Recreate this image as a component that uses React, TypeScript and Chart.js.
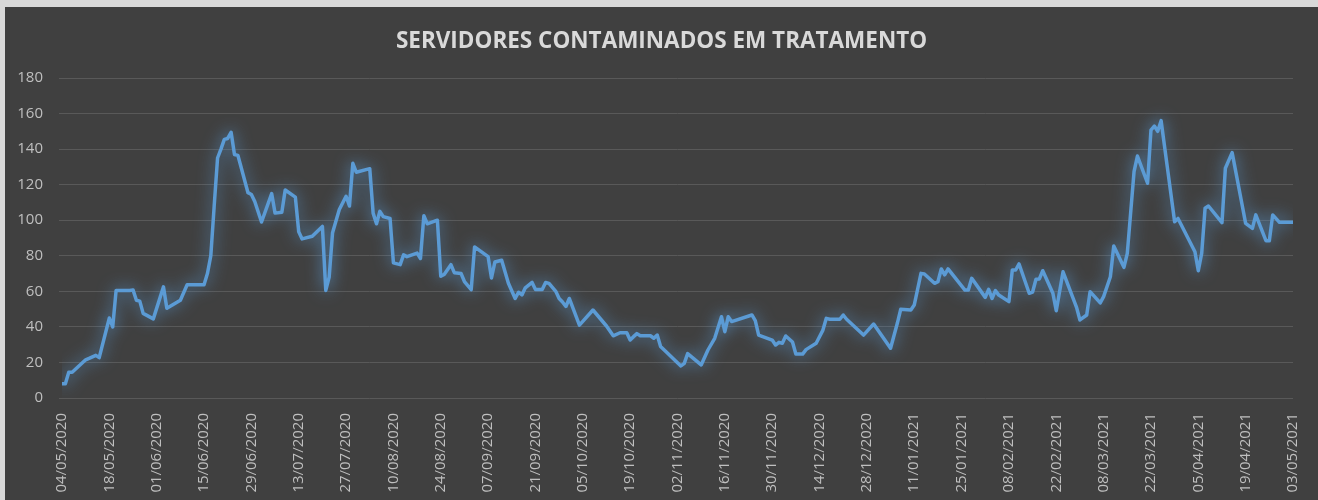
import React, { useEffect, useRef } from "react";
import { Chart, registerables } from "chart.js";

Chart.register(...registerables);

const chartTitle = "SERVIDORES CONTAMINADOS EM TRATAMENTO";
const startDate = "2020-05-04";

const dates = [
  "2020-05-04", "2020-05-05", "2020-05-06", "2020-05-07", "2020-05-11", "2020-05-12", "2020-05-14", "2020-05-15",
  "2020-05-18", "2020-05-19", "2020-05-20", "2020-05-24", "2020-05-25", "2020-05-26", "2020-05-27", "2020-05-28",
  "2020-05-31", "2020-06-03", "2020-06-04", "2020-06-08", "2020-06-10", "2020-06-15", "2020-06-16", "2020-06-17",
  "2020-06-18", "2020-06-19", "2020-06-20", "2020-06-21", "2020-06-22", "2020-06-23", "2020-06-24", "2020-06-25",
  "2020-06-28", "2020-06-29", "2020-06-30", "2020-07-02", "2020-07-05", "2020-07-06", "2020-07-08", "2020-07-09",
  "2020-07-12", "2020-07-13", "2020-07-14", "2020-07-17", "2020-07-20", "2020-07-21", "2020-07-22", "2020-07-23",
  "2020-07-25", "2020-07-27", "2020-07-28", "2020-07-29", "2020-07-30", "2020-08-03", "2020-08-04", "2020-08-05",
  "2020-08-06", "2020-08-07", "2020-08-09", "2020-08-10", "2020-08-12", "2020-08-13", "2020-08-14", "2020-08-17",
  "2020-08-18", "2020-08-19", "2020-08-20", "2020-08-23", "2020-08-24", "2020-08-25", "2020-08-27", "2020-08-28",
  "2020-08-30", "2020-08-31", "2020-09-02", "2020-09-03", "2020-09-07", "2020-09-08", "2020-09-09", "2020-09-11",
  "2020-09-13", "2020-09-15", "2020-09-16", "2020-09-17", "2020-09-18", "2020-09-20", "2020-09-21", "2020-09-23",
  "2020-09-24", "2020-09-25", "2020-09-27", "2020-09-28", "2020-09-29", "2020-09-30", "2020-10-01", "2020-10-04",
  "2020-10-08", "2020-10-12", "2020-10-14", "2020-10-16", "2020-10-18", "2020-10-19", "2020-10-20", "2020-10-21",
  "2020-10-22", "2020-10-25", "2020-10-26", "2020-10-27", "2020-10-28", "2020-11-03", "2020-11-04", "2020-11-05",
  "2020-11-09", "2020-11-11", "2020-11-13", "2020-11-15", "2020-11-16", "2020-11-17", "2020-11-18", "2020-11-24",
  "2020-11-25", "2020-11-26", "2020-11-30", "2020-12-01", "2020-12-02", "2020-12-03", "2020-12-04", "2020-12-06",
  "2020-12-07", "2020-12-09", "2020-12-10", "2020-12-13", "2020-12-15", "2020-12-16", "2020-12-17", "2020-12-20",
  "2020-12-21", "2020-12-22", "2020-12-27", "2020-12-30", "2021-01-04", "2021-01-06", "2021-01-07", "2021-01-10",
  "2021-01-11", "2021-01-13", "2021-01-14", "2021-01-17", "2021-01-18", "2021-01-19", "2021-01-20", "2021-01-21",
  "2021-01-26", "2021-01-27", "2021-01-28", "2021-02-01", "2021-02-02", "2021-02-03", "2021-02-04", "2021-02-05",
  "2021-02-08", "2021-02-09", "2021-02-10", "2021-02-11", "2021-02-14", "2021-02-15", "2021-02-16", "2021-02-17",
  "2021-02-18", "2021-02-21", "2021-02-22", "2021-02-24", "2021-02-28", "2021-03-01", "2021-03-03", "2021-03-04",
  "2021-03-07", "2021-03-08", "2021-03-10", "2021-03-11", "2021-03-14", "2021-03-15", "2021-03-17", "2021-03-18",
  "2021-03-21", "2021-03-22", "2021-03-23", "2021-03-24", "2021-03-25", "2021-03-29", "2021-03-30", "2021-04-04",
  "2021-04-05", "2021-04-06", "2021-04-07", "2021-04-08", "2021-04-12", "2021-04-13", "2021-04-15", "2021-04-19",
  "2021-04-21", "2021-04-22", "2021-04-25", "2021-04-26", "2021-04-27", "2021-04-29", "2021-05-03",
];

const values = [
  8, 8, 14.5, 14.5, 21.5, 22.3, 24, 22.7,
  45, 40, 60.5, 60.5, 60.8, 55, 54.5, 47.6,
  44.5, 62.5, 50.5, 55, 63.7, 63.7, 70, 80,
  108, 135, 140, 145.5, 146, 149.5, 137, 136.5,
  115.5, 114.5, 110.5, 99, 115, 104, 104.5, 117,
  113, 93.5, 89.5, 91, 96.5, 60.5, 68, 93,
  106, 113.5, 108, 132, 127, 129, 104, 98,
  105, 102, 101, 76, 75, 80.5, 79.5, 81.5,
  78.5, 102.5, 98, 100, 68.5, 69.5, 75, 70.5,
  70, 65.5, 61, 85, 79.5, 67.5, 76.5, 77.5,
  64.5, 56, 59.5, 58, 62, 65, 61, 61,
  65, 64.5, 60, 56, 54, 51.5, 56, 41,
  49.5, 40.5, 35, 36.7, 36.7, 32.6, 34.5, 36.2,
  35, 35, 33.6, 35.4, 29, 18, 19.5, 25,
  18.6, 27, 33.6, 45.7, 37.3, 45.7, 43, 46.7,
  43.5, 35.4, 32.6, 29.8, 31.3, 30.8, 34.9, 31.5,
  24.7, 24.7, 27.2, 30.8, 38.2, 44.8, 44.3, 44.3,
  46.7, 44.3, 35.4, 41.6, 28, 42, 49.9, 49.5,
  52.3, 70.1, 69.8, 64.5, 65.4, 72.6, 69.3, 72.6,
  60.7, 60.7, 67.3, 56.6, 61.1, 56, 60.4, 57.9,
  54.2, 72, 72, 75.4, 58.9, 59.6, 66.8, 67,
  71.6, 58.9, 49.1, 71, 51, 43.9, 46.7, 59.8,
  53.5, 57, 68.2, 85.5, 73.5, 81.4, 127.3, 136.1,
  120.8, 150.7, 153, 150, 156, 99.2, 101, 82.3,
  71.6, 81.4, 106.7, 108, 98.6, 129.2, 138, 98.2,
  95.4, 103, 88.5, 88.5, 103, 98.8, 98.8,
];

const tickLabels = [
  "04/05/2020", "18/05/2020", "01/06/2020", "15/06/2020", "29/06/2020", "13/07/2020", "27/07/2020",
  "10/08/2020", "24/08/2020", "07/09/2020", "21/09/2020", "05/10/2020", "19/10/2020", "02/11/2020",
  "16/11/2020", "30/11/2020", "14/12/2020", "28/12/2020", "11/01/2021", "25/01/2021", "08/02/2021",
  "22/02/2021", "08/03/2021", "22/03/2021", "05/04/2021", "19/04/2021", "03/05/2021",
];

const tickStepDays = 14;
const yMin = 0;
const yMax = 180;
const yStep = 20;

function toUTC(iso: string): number {
  const [y, m, d] = iso.split("-").map(Number);
  return Date.UTC(y, m - 1, d);
}

function dayOffset(iso: string): number {
  return Math.round((toUTC(iso) - toUTC(startDate)) / 86400000);
}

const FONT = '"Open Sans", "Noto Sans", sans-serif';

const glowPlugin = {
  id: "glow",
  beforeDatasetDraw(chart: any) {
    const ctx = chart.ctx;
    ctx.save();
    ctx.shadowColor = "rgba(91,155,213,0.95)";
    ctx.shadowBlur = 16;
  },
  afterDatasetDraw(chart: any) {
    chart.ctx.restore();
  },
};

export default function App() {
  const canvasRef = useRef<HTMLCanvasElement | null>(null);

  useEffect(() => {
    if (!canvasRef.current) return;
    const points = dates.map((d, i) => ({ x: dayOffset(d), y: values[i] }));
    const chart = new Chart(canvasRef.current, {
      type: "line",
      data: {
        datasets: [
          {
            data: points,
            borderColor: "#5B9BD5",
            borderWidth: 3.5,
            pointRadius: 0,
            tension: 0,
            fill: false,
            borderJoinStyle: "round",
            borderCapStyle: "round",
          },
        ],
      },
      plugins: [glowPlugin],
      options: {
        animation: false,
        responsive: false,
        maintainAspectRatio: false,
        layout: { padding: 0 },
        plugins: {
          legend: { display: false },
          tooltip: { enabled: false },
          title: {
            display: true,
            text: chartTitle,
            color: "#d9d9d9",
            font: { family: FONT, size: 22.5, weight: "bold", lineHeight: 1.2 },
            padding: { top: 21, bottom: 23 },
          },
        },
        scales: {
          x: {
            type: "linear",
            min: 0,
            max: (tickLabels.length - 1) * tickStepDays,
            grid: { display: false },
            border: { display: false },
            ticks: {
              stepSize: tickStepDays,
              autoSkip: false,
              maxRotation: 90,
              minRotation: 90,
              color: "#bfbfbf",
              font: { family: FONT, size: 15 },
              padding: 7,
              callback: (v: any) => tickLabels[Math.round(Number(v) / tickStepDays)] ?? "",
            },
            afterFit: (s: any) => {
              s.height = 102;
            },
          },
          y: {
            min: yMin,
            max: yMax,
            border: { display: false },
            grid: { color: "#595959", lineWidth: 1, drawTicks: true, tickLength: 3 },
            ticks: {
              stepSize: yStep,
              color: "#bfbfbf",
              font: { family: FONT, size: 15 },
              padding: 16,
            },
            afterFit: (s: any) => {
              s.width = 57;
            },
          },
          yRightSpace: {
            position: "right",
            display: true,
            min: yMin,
            max: yMax,
            grid: { display: false, drawOnChartArea: false },
            border: { display: false },
            ticks: { display: false },
            afterFit: (s: any) => {
              s.width = 18;
            },
          },
        },
      },
    } as any);
    return () => chart.destroy();
  }, []);

  return (
    <div style={{ position: "absolute", left: 0, top: 0, width: 1318, height: 500, background: "#d9d9d9" }}>
      <div style={{ position: "absolute", left: 5, top: 7, width: 1313, height: 493, background: "#404040" }}>
        <canvas ref={canvasRef} width={1313} height={493} style={{ display: "block", width: 1313, height: 493 }} />
      </div>
    </div>
  );
}
